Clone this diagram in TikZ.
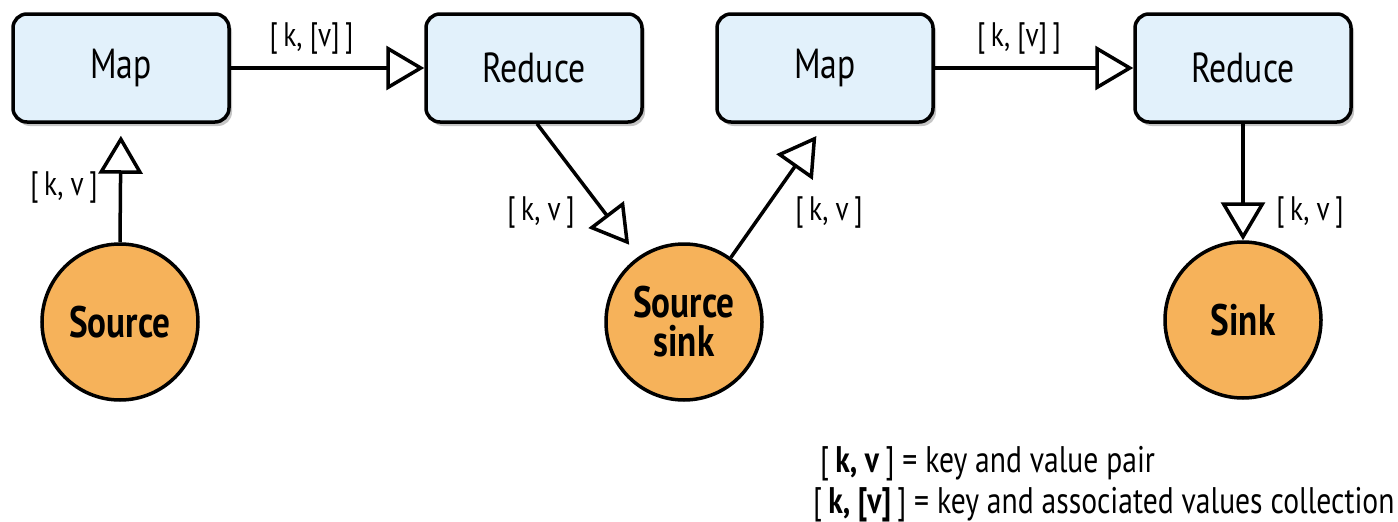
\documentclass[tikz,border=0pt]{standalone}
\usepackage{fontspec}
\setmainfont{PT Sans}[FakeStretch=0.8]
\usetikzlibrary{arrows.meta,shadows,calc}
\definecolor{boxblue}{RGB}{226,241,251}
\definecolor{disk}{RGB}{246,178,90}
\begin{document}
\begin{tikzpicture}[x=1pt,y=1pt,
  box/.style={draw=black, line width=3.5pt, rounded corners=14pt, fill=boxblue,
    minimum width=216pt, minimum height=108pt, font=\fontsize{42}{46}\selectfont,
    drop shadow={shadow xshift=3pt, shadow yshift=-4pt, fill=black!45}},
  disc/.style={draw=black, line width=3.5pt, circle, fill=disk, minimum size=156pt,
    font=\fontsize{44}{39}\bfseries\selectfont, align=center, inner sep=0pt},
  arr/.style={line width=3.5pt, -{Triangle[open, length=38pt, width=44pt, fill=white]}},
  lab/.style={font=\fontsize{34}{36}\selectfont, inner sep=0pt},
  leg/.style={font=\fontsize{37}{38}\selectfont, inner sep=0pt, anchor=base west}]
\useasboundingbox (0,0) rectangle (1398,-522);
\node[box] (m1) at (121,-68) {Map};
\node[box] (r1) at (534,-68) {Reduce};
\node[box] (m2) at (825,-68) {Map};
\node[box] (r2) at (1243,-68) {Reduce};
\node[disc] (src) at (120,-322) {Source};
\node[disc] (ss) at (684,-322) {Source\\sink};
\node[disc] (snk) at (1243,-320) {Sink};
\draw[arr] (m1.east) -- (r1.west) node[lab, midway, above=12pt, xshift=-16pt] (l1) {[\,k, [v]\,]};
\draw[arr] (m2.east) -- (r2.west) node[lab, midway, above=12pt, xshift=-15pt] (l2) {[\,k, [v]\,]};
\draw[arr, shorten >=12pt] (src.north) -- (m1.south);
\node[lab] (l3) at (64,-188) {[\,k, v\,]};
\draw[arr, shorten >=15pt] ($(r1.south)+(3,0)$) -- (ss.125);
\node[lab] (l4) at (541,-213) {[\,k, v\,]};
\draw[arr, shorten >=15pt] (ss.54) -- (m2.south);
\node[lab] (l5) at (829,-213) {[\,k, v\,]};
\draw[arr] (r2.south) -- (snk.north);
\node[lab] (l6) at (1310,-213) {[\,k, v\,]};
\node[leg] (g1) at (820,-472) {[\,\textbf{k, v}\,] = key and value pair};
\node[leg] (g2) at (813,-513) {[\,\textbf{k, [v]}\,] = key and associated values collection};
\end{tikzpicture}
\end{document}
